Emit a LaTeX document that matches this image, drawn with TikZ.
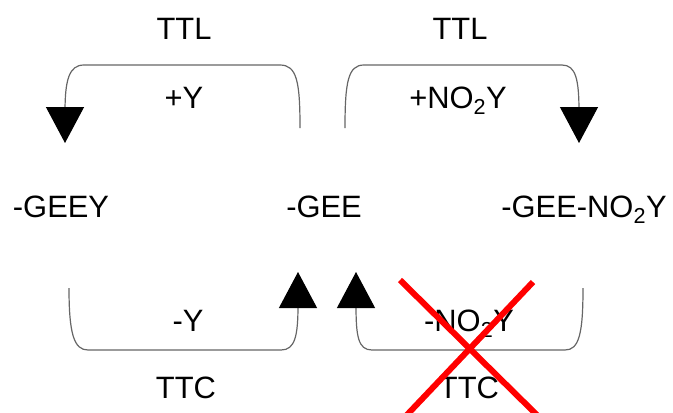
\documentclass[tikz,border=0pt]{standalone}
\usepackage{fontspec}
\setmainfont{Liberation Sans}
\usetikzlibrary{arrows.meta}
\tikzset{
	txtnode/.style={
			inner sep=0pt,
			anchor=base,
			font=\fontsize{31}{36}\selectfont
		},
	bendline/.style={
			draw=black!60,
			line width=1.2bp
		},
	bigtip/.style={
			-{Triangle[length=36bp,width=38bp,color=black,fill=black]}
		},
	crossline/.style={
			draw=red,
			line width=6bp
		}
}

\begin{document}
\begin{tikzpicture}[x=1bp, y=-1bp]
\useasboundingbox (0,0) rectangle (673,412);
    \node[txtnode] (ttl1) at (184,39)  { TTL };
    \node[txtnode] (ttl2) at (460,39)  { TTL };
    \node[txtnode] (addy) at (184,108)  { +Y };
    \node[txtnode] (addno) at (458,108)  { +NO\textsubscript{2}Y };
    \node[txtnode] (geey) at (61,217)  { -GEEY };
    \node[txtnode] (gee) at (324,217)  { -GEE };
    \node[txtnode] (geeno) at (584,217)  { -GEE-NO\textsubscript{2}Y };
    \node[txtnode] (remy) at (188,331)  { -Y };
    \node[txtnode] (remno) at (469,331)  { -NO\textsubscript{2}Y };
    \node[txtnode] (ttc1) at (186,398)  { TTC };
    \node[txtnode] (ttc2) at (469,398)  { TTC };

    \coordinate (tl start) at (300,128);
    \coordinate (tl tip) at (65,143);
    \coordinate (tr start) at (345,128);
    \coordinate (tr tip) at (579,143);
    \coordinate (bl start) at (69,288);
    \coordinate (bl tip) at (298,272);
    \coordinate (br start) at (583,288);
    \coordinate (br tip) at (356,272);

    \draw[bendline, bigtip] (tl start) .. controls (300,82) and (297,65) .. (280,65)
        -- (84,65) .. controls (69,65) and (65,80) .. (65,112) -- (tl tip);
    \draw[bendline, bigtip] (tr start) .. controls (345,82) and (348,65) .. (364,65)
        -- (562,65) .. controls (576,65) and (579,80) .. (579,112) -- (tr tip);
    \draw[bendline, bigtip] (bl start) .. controls (69,334) and (74,350) .. (88,350)
        -- (281,350) .. controls (295,350) and (298,336) .. (298,305) -- (bl tip);
    \draw[bendline, bigtip] (br start) .. controls (583,334) and (579,350) .. (565,350)
        -- (372,350) .. controls (358,350) and (356,336) .. (356,305) -- (br tip);

    \coordinate (xa) at (400,280);
    \coordinate (xb) at (540,418);
    \coordinate (xc) at (533,282);
    \coordinate (xd) at (404,418);
    \draw[crossline] (xa) -- (xb);
    \draw[crossline] (xc) -- (xd);
\end{tikzpicture}
\end{document}
